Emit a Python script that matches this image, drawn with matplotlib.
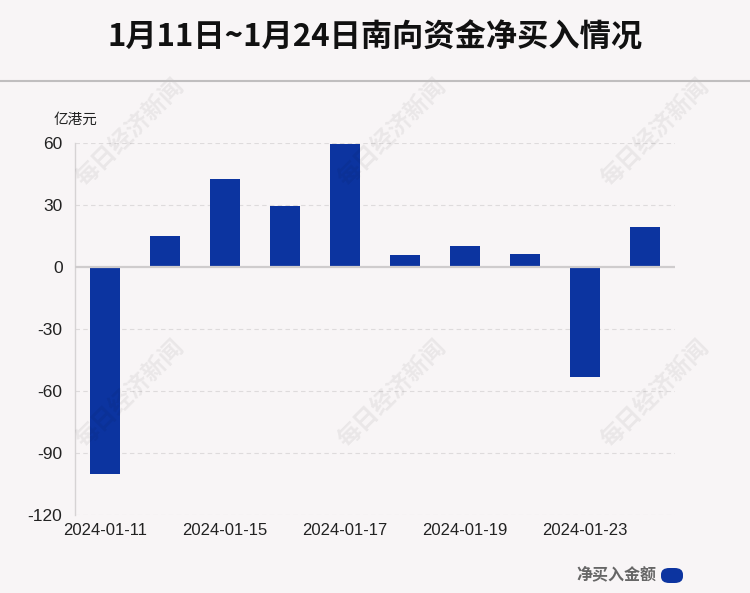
import matplotlib
matplotlib.use("Agg")
import matplotlib.pyplot as plt
from matplotlib.patches import FancyBboxPatch
import numpy as np

dates = ["2024-01-11", "2024-01-12", "2024-01-15", "2024-01-16", "2024-01-17",
         "2024-01-18", "2024-01-19", "2024-01-22", "2024-01-23", "2024-01-24"]
net_buy = [-100.0, 14.8, 42.4, 29.5, 59.5, 5.7, 10.4, 6.5, -53.2, 19.5]
yticks = [60, 30, 0, -30, -60, -90, -120]
title = "1月11日~1月24日南向资金净买入情况"
unit_label = "亿港元"
legend_label = "净买入金额"
watermark = "每日经济新闻"

plt.rcParams['font.family'] = ['Liberation Sans', 'Noto Sans CJK SC', 'DejaVu Sans']
cjk = ['Noto Sans CJK SC', 'DejaVu Sans']
bg = '#f8f5f6'
bar_color = '#0c34a0'

W, H = 750, 593
fig = plt.figure(figsize=(7.5, 5.93), dpi=100, facecolor=bg)

# axes in pixel coords: left 75, right 675, top 143, bottom 515
ax = fig.add_axes([75 / W, 1 - 515 / H, 600 / W, (515 - 143) / H])
ax.set_facecolor(bg)

x = np.arange(len(dates))
ax.bar(x, net_buy, width=0.5, color=bar_color, zorder=3)
ax.set_xlim(-0.5, len(dates) - 0.5)
ax.set_ylim(-120, 60)
ax.set_yticks(yticks)
ax.set_yticklabels([str(v) for v in yticks], fontsize=12.5, color='#222222')
ax.set_xticks(x[::2])
ax.set_xticklabels([dates[i] for i in range(0, len(dates), 2)], fontsize=12, color='#222222')
ax.tick_params(axis='both', length=0)
ax.tick_params(axis='x', pad=6)
ax.tick_params(axis='y', pad=9)

for v in yticks:
    if v != 0:
        ax.axhline(v, color='#dedbdc', lw=0.8, ls=(0, (4, 3)), zorder=1)
ax.axhline(0, color='#cfcccd', lw=1.6, zorder=4)

for s in ['top', 'right', 'bottom']:
    ax.spines[s].set_visible(False)
ax.spines['left'].set_color('#d6d3d4')
ax.spines['left'].set_linewidth(1.0)

# title & separator
fig.text(0.5, 1 - 38 / H, title, ha='center', va='center', fontsize=22.5,
         fontweight='bold', family=cjk, color='#111111')
fig.add_artist(plt.Line2D([0, 1], [1 - 81 / H, 1 - 81 / H], color='#c0bebf', lw=1.5))

# unit label
fig.text(75 / W, 1 - 120 / H, unit_label, ha='center', va='center', fontsize=10.5,
         family=cjk, color='#222222')

# legend
fig.text(656 / W, 1 - 574 / H, legend_label, ha='right', va='center', fontsize=11.5,
         fontweight='bold', family=cjk, color='#666666')
pill = FancyBboxPatch((661 / W, 1 - 583 / H), 22 / W, 15 / H,
                      boxstyle="round,pad=0,rounding_size=0.011",
                      transform=fig.transFigure, facecolor=bar_color, edgecolor='none')
fig.add_artist(pill)

# watermarks
for cx in (130, 392, 655):
    for cy in (132, 393):
        fig.text(cx / W, 1 - cy / H, watermark, ha='center', va='center', rotation=45,
                 fontsize=17, fontweight='bold', family=cjk, color='#000000', alpha=0.06,
                 zorder=0)

fig.savefig("out.png", dpi=100, facecolor=bg)
